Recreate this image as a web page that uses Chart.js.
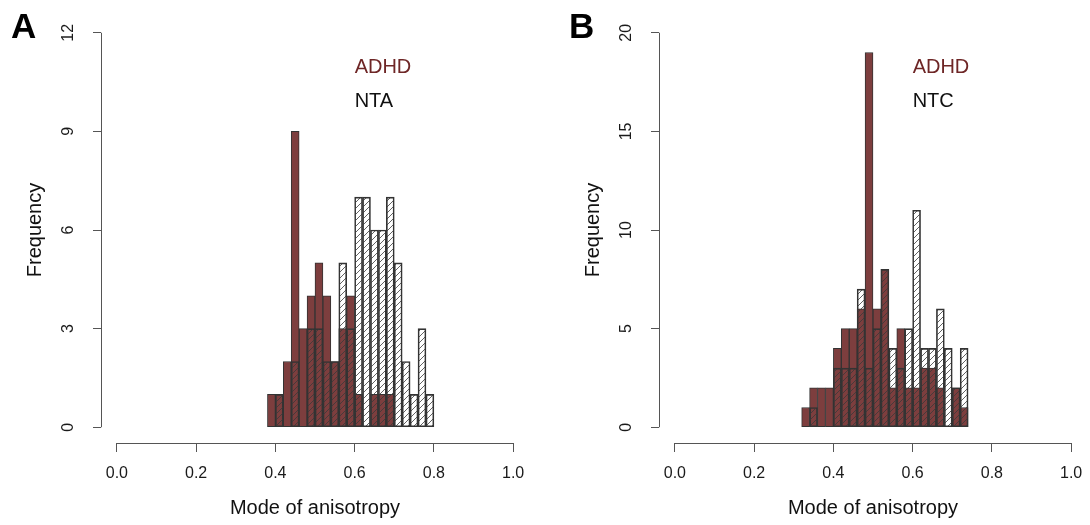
<!DOCTYPE html>
<html>
<head>
<meta charset="utf-8">
<script src="https://cdn.jsdelivr.net/npm/chart.js@4.4.1/dist/chart.umd.min.js"></script>
<style>
    html, body { margin: 0; padding: 0; background: #fff; overflow: hidden; }
    body { width: 1090px; height: 525px; position: relative; }
    canvas { position: absolute; top: 0; }
</style>
</head>
<body>
<canvas id="panelA" width="545" height="525" style="left:0"></canvas>
<canvas id="panelB" width="545" height="525" style="left:558px"></canvas>
<script>
// histogram bins are 0.02 wide, listed by their left edge
const binWidth = 0.02;
const xTicks = [0, 0.2, 0.4, 0.6, 0.8, 1.0];

// A: ADHD vs NTA
const binsA = [0.38, 0.40, 0.42, 0.44, 0.46, 0.48, 0.50, 0.52, 0.54, 0.56, 0.58,
               0.60, 0.62, 0.64, 0.66, 0.68, 0.70, 0.72, 0.74, 0.76, 0.78];
const adhdA = [1, 1, 2, 9, 3, 4, 5, 4, 2, 3, 4, 1, 0, 1, 1, 1, 0, 0, 0, 0, 0];
const ntaA  = [0, 1, 0, 2, 0, 3, 3, 2, 2, 5, 3, 7, 7, 6, 6, 7, 5, 2, 1, 3, 1];
const yTicksA = [0, 3, 6, 9, 12];

// B: ADHD vs NTC
const binsB = [0.32, 0.34, 0.36, 0.38, 0.40, 0.42, 0.44, 0.46, 0.48, 0.50, 0.52,
               0.54, 0.56, 0.58, 0.60, 0.62, 0.64, 0.66, 0.68, 0.70, 0.72];
const adhdB = [1, 2, 2, 2, 4, 5, 5, 6, 19, 6, 8, 2, 5, 2, 2, 3, 3, 2, 0, 2, 1];
const ntcB  = [0, 1, 0, 0, 3, 3, 3, 7, 3, 5, 8, 4, 3, 5, 11, 4, 4, 6, 4, 2, 4];
const yTicksB = [0, 5, 10, 15, 20];

const BROWN = "#7d3e3e";
const LEGEND_RED = "#6e2626";
const EDGE = "#333";
const AXIS = "#555";
const FONT = "'Liberation Sans', Arial, sans-serif";

function hatch(ctx) {
    const c = document.createElement("canvas");
    c.width = 6;
    c.height = 6;
    const g = c.getContext("2d");
    g.strokeStyle = "#3a3a3a";
    g.lineWidth = 0.8;
    g.beginPath();
    g.moveTo(0, 6); g.lineTo(6, 0);
    g.moveTo(-1, 1); g.lineTo(1, -1);
    g.moveTo(5, 7); g.lineTo(7, 5);
    g.stroke();
    return ctx.createPattern(c, "repeat");
}

// R-like axes: lines only across the tick range, rotated y labels, panel letter, text legend
const rStyle = {
    id: "rStyle",
    afterDraw(chart, args, opts) {
        const { ctx, chartArea: a, scales: { x, y } } = chart;
        ctx.save();
        ctx.strokeStyle = AXIS;
        ctx.lineWidth = 1;
        ctx.beginPath();
        const lx = Math.round(a.left) + 0.5;
        ctx.moveTo(lx, y.getPixelForValue(opts.yTicks[0]));
        ctx.lineTo(lx, y.getPixelForValue(opts.yTicks[opts.yTicks.length - 1]));
        const by = Math.round(a.bottom) + 0.5;
        ctx.moveTo(x.getPixelForValue(xTicks[0]), by);
        ctx.lineTo(x.getPixelForValue(xTicks[xTicks.length - 1]), by);
        ctx.stroke();

        ctx.fillStyle = "#1a1a1a";
        ctx.font = "16px " + FONT;
        ctx.textAlign = "center";
        ctx.textBaseline = "middle";
        y.ticks.forEach((t) => {
            ctx.save();
            ctx.translate(a.left - 32, y.getPixelForValue(t.value));
            ctx.rotate(-Math.PI / 2);
            ctx.fillText(String(t.value), 0, 0);
            ctx.restore();
        });

        ctx.fillStyle = "#000";
        ctx.font = "bold 35px " + FONT;
        ctx.textAlign = "left";
        ctx.textBaseline = "alphabetic";
        ctx.fillText(opts.letter, 11, 38);

        ctx.font = "20px " + FONT;
        ctx.textBaseline = "middle";
        const tx = x.getPixelForValue(0.6);
        ctx.fillStyle = LEGEND_RED;
        ctx.fillText(opts.names[0], tx, a.top + 50);
        ctx.fillStyle = "#111";
        ctx.fillText(opts.names[1], tx, a.top + 84);
        ctx.restore();
    },
};

function makePanel(id, letter, bins, adhd, nt, ntName, yTicks) {
    const el = document.getElementById(id);
    const ctx = el.getContext("2d");
    const top = yTicks[yTicks.length - 1];
    const pad = top * 0.04;
    const points = (vals) => bins.map((b, i) => ({ x: b + binWidth / 2, y: vals[i] }));

    return new Chart(ctx, {
        type: "bar",
        data: {
            datasets: [
                {
                    label: ntName,
                    data: points(nt),
                    backgroundColor: hatch(ctx),
                    borderColor: EDGE,
                    borderWidth: 1,
                    borderSkipped: false,
                    grouped: false,
                    barPercentage: 1,
                    categoryPercentage: 1,
                    order: 0,
                },
                {
                    label: "ADHD",
                    data: points(adhd),
                    backgroundColor: BROWN,
                    borderColor: EDGE,
                    borderWidth: 1,
                    borderSkipped: false,
                    grouped: false,
                    barPercentage: 1,
                    categoryPercentage: 1,
                    order: 1,
                },
            ],
        },
        options: {
            responsive: false,
            animation: false,
            layout: { padding: { left: 0, right: 16, top: 17, bottom: 0 } },
            plugins: {
                legend: { display: false },
                tooltip: { enabled: false },
                rStyle: { letter: letter, yTicks: yTicks, names: ["ADHD", ntName] },
            },
            scales: {
                x: {
                    type: "linear",
                    min: -0.04,
                    max: 1.04,
                    offset: false,
                    afterBuildTicks: (s) => { s.ticks = xTicks.map((v) => ({ value: v })); },
                    afterFit: (s) => { s.height = 82; },
                    grid: { offset: false, drawOnChartArea: false, drawTicks: true, tickLength: 9, color: AXIS },
                    border: { display: false },
                    ticks: {
                        autoSkip: false,
                        maxRotation: 0,
                        padding: 12,
                        color: "#1a1a1a",
                        font: { family: FONT, size: 16 },
                        callback: (v) => Number(v).toFixed(1),
                    },
                    title: {
                        display: true,
                        text: "Mode of anisotropy",
                        color: "#111",
                        font: { family: FONT, size: 20 },
                        padding: { top: 0, bottom: 5 },
                    },
                },
                y: {
                    type: "linear",
                    min: -pad,
                    max: top + pad,
                    afterBuildTicks: (s) => { s.ticks = yTicks.map((v) => ({ value: v })); },
                    afterFit: (s) => { s.width = 101; },
                    grid: { drawOnChartArea: false, drawTicks: true, tickLength: 8, color: AXIS },
                    border: { display: false },
                    ticks: { display: false },
                    title: {
                        display: true,
                        text: "Frequency",
                        color: "#111",
                        font: { family: FONT, size: 20 },
                        padding: { top: 23, bottom: 0 },
                    },
                },
            },
        },
        plugins: [rStyle],
    });
}

makePanel("panelA", "A", binsA, adhdA, ntaA, "NTA", yTicksA);
makePanel("panelB", "B", binsB, adhdB, ntcB, "NTC", yTicksB);
</script>
</body>
</html>
